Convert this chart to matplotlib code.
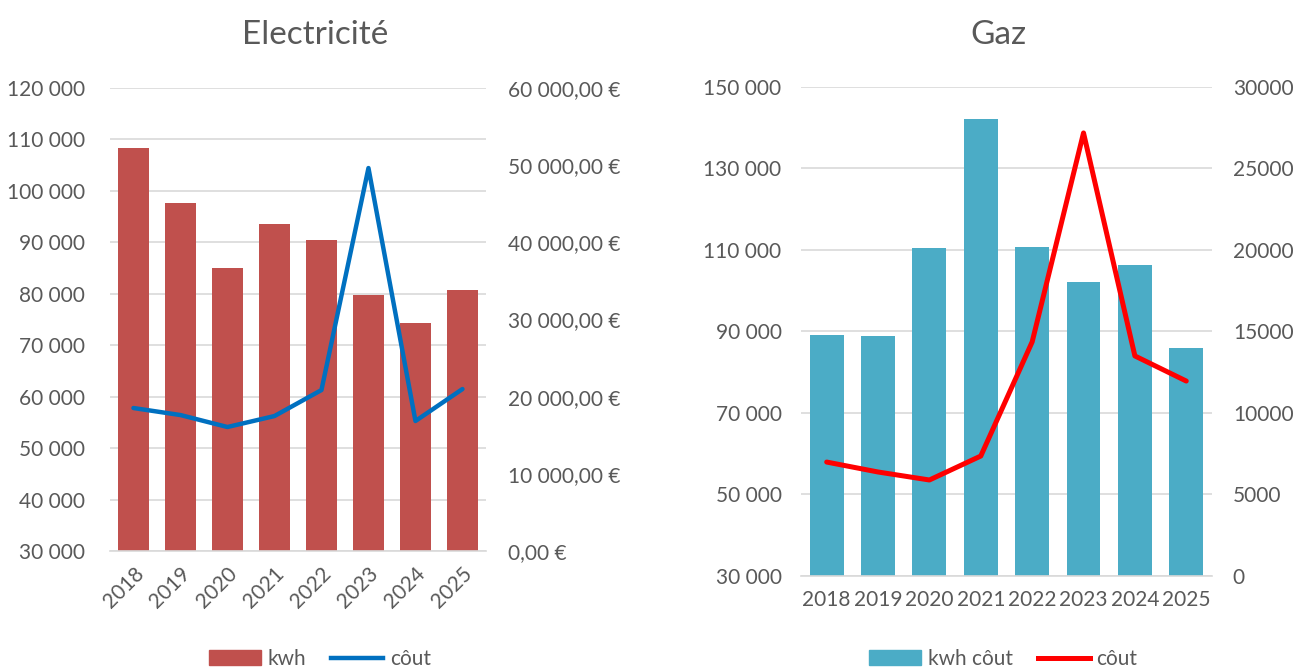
import matplotlib.pyplot as plt
from matplotlib.lines import Line2D
from matplotlib.patches import Patch
from matplotlib.ticker import FuncFormatter

years = ['2018', '2019', '2020', '2021', '2022', '2023', '2024', '2025']

# Electricité
elec_kwh = [108300, 97650, 85000, 93570, 90460, 79770, 74320, 80740]
elec_cout = [18530, 17620, 16070, 17490, 20860, 49630, 16850, 20990]

# Gaz
gaz_kwh = [89140, 88900, 110490, 142150, 110740, 102150, 106320, 85950]
gaz_cout = [6990, 6380, 5890, 7360, 14360, 27180, 13500, 11960]

plt.rcParams['font.family'] = ['Lato', 'DejaVu Sans']
txt = '#595959'
grid = '#D9D9D9'
fs = 15


def space_thousands(v, pos=None):
	return f'{v:,.0f}'.replace(',', ' ')


def euro(v, pos=None):
	return f'{v:,.2f}'.replace(',', ' ').replace('.', ',') + ' €'


def style(ax, ax2, lpad, rpad):
	for a in (ax, ax2):
		for s in a.spines.values():
			s.set_visible(False)
		a.tick_params(length=0, labelcolor=txt, labelsize=fs)
	ax.spines['bottom'].set_visible(True)
	ax.spines['bottom'].set_color(grid)
	ax.spines['bottom'].set_linewidth(1.2)
	ax.grid(axis='y', color=grid, linewidth=1.2)
	ax.set_axisbelow(True)
	ax.tick_params(axis='y', pad=lpad)
	ax2.tick_params(axis='y', pad=rpad)
	ax.set_xlim(-0.5, len(years) - 0.5)


fig = plt.figure(figsize=(12.98, 6.70), dpi=100)

# ---- Electricité
ax = fig.add_axes([0.0847, 0.1776, 0.2897, 0.691])
ax2 = ax.twinx()
x = range(len(years))
ax.bar(x, elec_kwh, width=0.66, color='#C0504D')
ax2.plot(x, elec_cout, color='#0070C0', lw=3.2, solid_capstyle='round')
ax.set_ylim(30000, 120000)
ax.set_yticks(range(30000, 120001, 10000))
ax.yaxis.set_major_formatter(FuncFormatter(space_thousands))
ax2.set_ylim(0, 60000)
ax2.set_yticks(range(0, 60001, 10000))
ax2.yaxis.set_major_formatter(FuncFormatter(euro))
ax.set_xticks(list(x))
ax.set_xticklabels(years, rotation=45, ha='right', rotation_mode='anchor')
style(ax, ax2, 18, 16)
ax.tick_params(axis='x', pad=9)
ax2.set_zorder(ax.get_zorder() + 1)
fig.text(315 / 1298, 1 - 35 / 670, 'Electricité', ha='center', va='center',
	fontsize=24, color=txt)
fig.legend(handles=[Patch(color='#C0504D', label='kwh'),
	Line2D([], [], color='#0070C0', lw=3.2, label='côut')],
	loc='center', bbox_to_anchor=(320 / 1298, 1 - 659 / 670), ncol=2,
	frameon=False, fontsize=fs, labelcolor=txt, handlelength=2.5,
	handletextpad=0.3, columnspacing=1.2)

# ---- Gaz
bx = fig.add_axes([0.6171, 0.1403, 0.3166, 0.7299])
bx2 = bx.twinx()
bx.bar(x, gaz_kwh, width=0.66, color='#4BACC6')
bx2.plot(x, gaz_cout, color='#FF0000', lw=3.6, solid_capstyle='round')
bx.set_ylim(30000, 150000)
bx.set_yticks(range(30000, 150001, 20000))
bx.yaxis.set_major_formatter(FuncFormatter(space_thousands))
bx2.set_ylim(0, 30000)
bx2.set_yticks(range(0, 30001, 5000))
bx.set_xticks(list(x))
bx.set_xticklabels(years)
style(bx, bx2, 14, 15)
bx.tick_params(axis='x', pad=10)
bx2.set_zorder(bx.get_zorder() + 1)
fig.text(998 / 1298, 1 - 35 / 670, 'Gaz', ha='center', va='center',
	fontsize=24, color=txt)
fig.legend(handles=[Patch(color='#4BACC6', label='kwh côut'),
	Line2D([], [], color='#FF0000', lw=3.6, label='côut')],
	loc='center', bbox_to_anchor=(1003 / 1298, 1 - 659 / 670), ncol=2,
	frameon=False, fontsize=fs, labelcolor=txt, handlelength=2.5,
	handletextpad=0.3, columnspacing=1.2)

fig.savefig('out.png', dpi=100)
